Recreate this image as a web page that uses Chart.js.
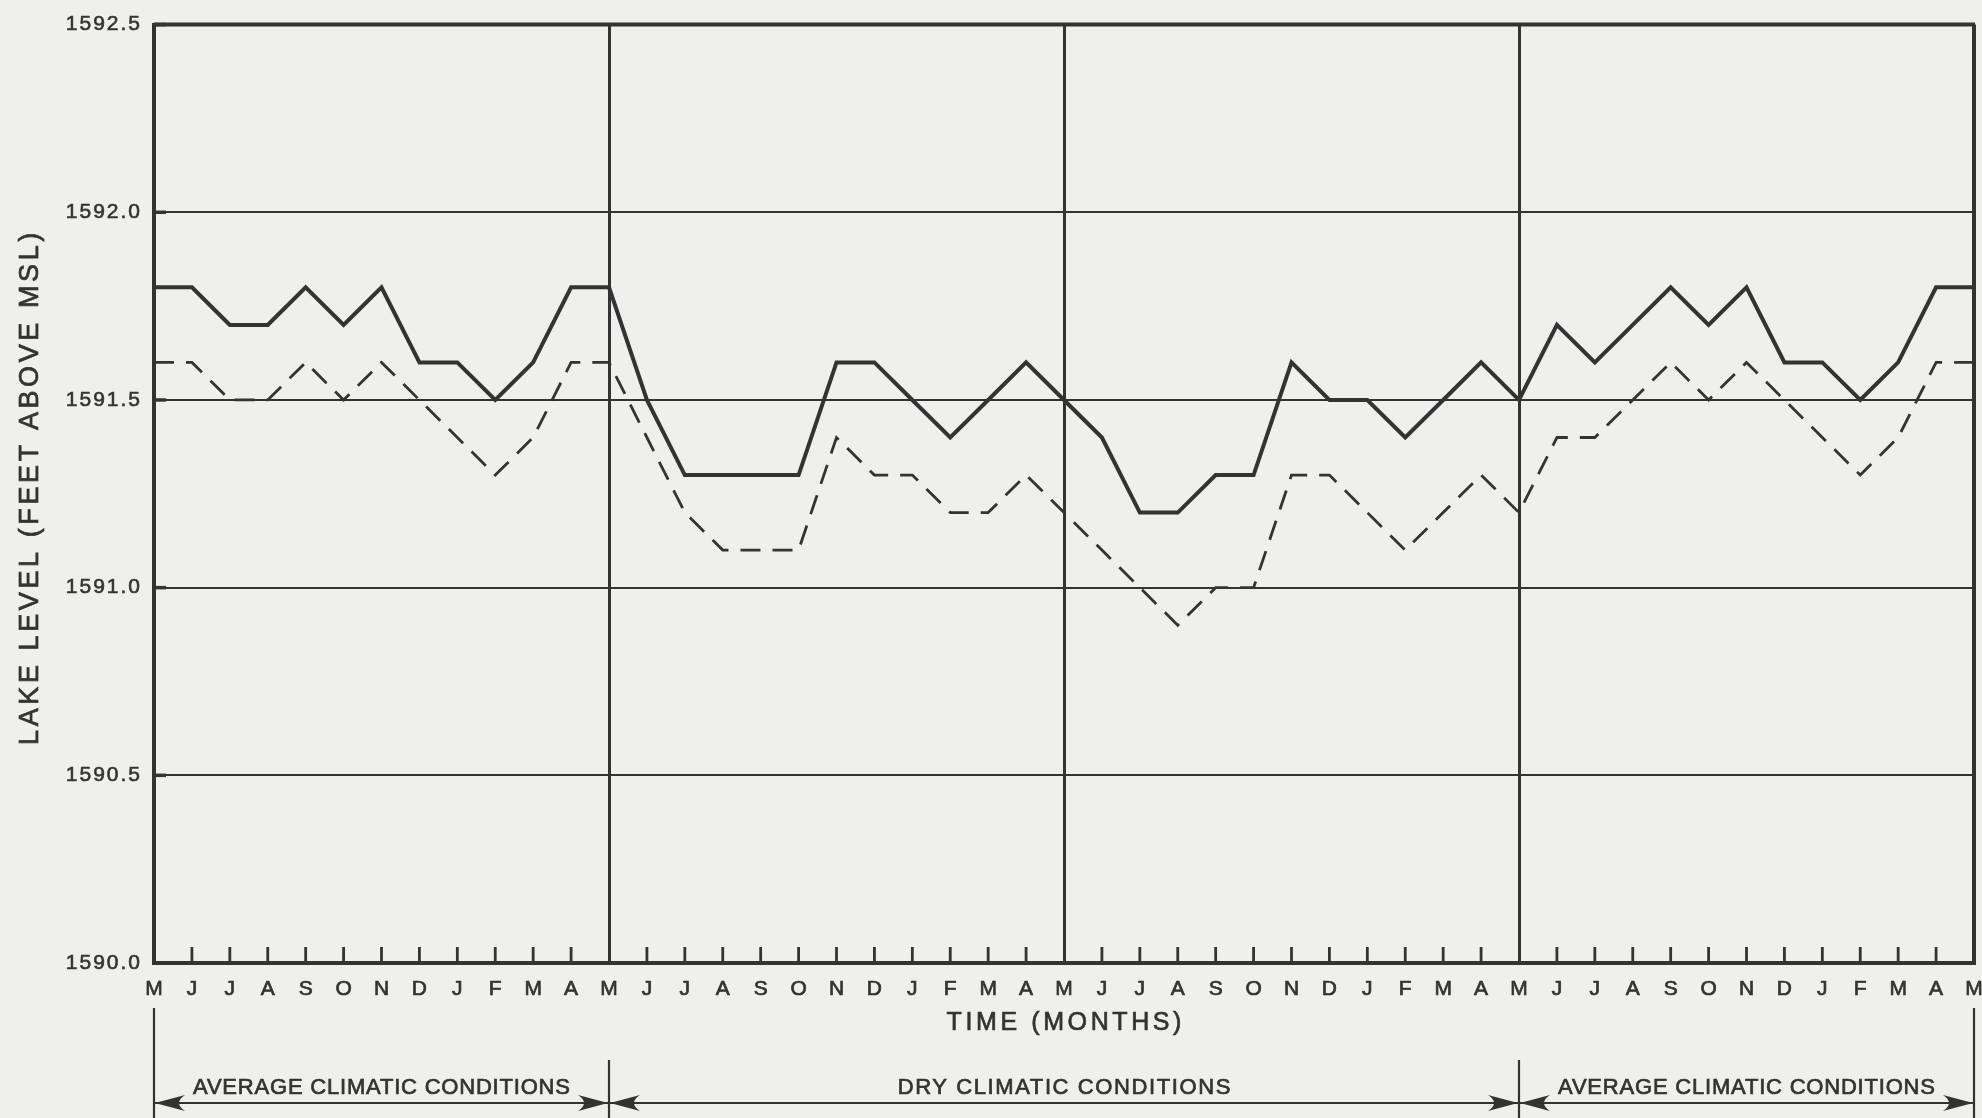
<!DOCTYPE html>
<html><head><meta charset="utf-8">
<script src="https://cdn.jsdelivr.net/npm/chart.js@4/dist/chart.umd.min.js"></script>
<style>html,body{margin:0;padding:0;background:#efefed;overflow:hidden}canvas{display:block}</style>
</head><body>
<canvas id="c" width="1982" height="1118"></canvas>
<script>
// ---- data ----
const months = ['M','J','J','A','S','O','N','D','J','F','M','A',
                'M','J','J','A','S','O','N','D','J','F','M','A',
                'M','J','J','A','S','O','N','D','J','F','M','A',
                'M','J','J','A','S','O','N','D','J','F','M','A','M'];
const solidLevels = [
  1591.8,1591.8,1591.7,1591.7,1591.8,1591.7,1591.8,1591.6,1591.6,1591.5,1591.6,1591.8,
  1591.8,1591.5,1591.3,1591.3,1591.3,1591.3,1591.6,1591.6,1591.5,1591.4,1591.5,1591.6,
  1591.5,1591.4,1591.2,1591.2,1591.3,1591.3,1591.6,1591.5,1591.5,1591.4,1591.5,1591.6,
  1591.5,1591.7,1591.6,1591.7,1591.8,1591.7,1591.8,1591.6,1591.6,1591.5,1591.6,1591.8,
  1591.8];
const dashedLevels = [
  1591.6,1591.6,1591.5,1591.5,1591.6,1591.5,1591.6,1591.5,1591.4,1591.3,1591.4,1591.6,
  1591.6,1591.4,1591.2,1591.1,1591.1,1591.1,1591.4,1591.3,1591.3,1591.2,1591.2,1591.3,
  1591.2,1591.1,1591.0,1590.9,1591.0,1591.0,1591.3,1591.3,1591.2,1591.1,1591.2,1591.3,
  1591.2,1591.4,1591.4,1591.5,1591.6,1591.5,1591.6,1591.5,1591.4,1591.3,1591.4,1591.6,
  1591.6];
const yTickValues = [1590.0, 1590.5, 1591.0, 1591.5, 1592.0, 1592.5];
const periodLabels = ['AVERAGE CLIMATIC CONDITIONS', 'DRY CLIMATIC CONDITIONS', 'AVERAGE CLIMATIC CONDITIONS'];
const periodBounds = [[0, 12], [12, 36], [36, 48]];
const yTitle = 'LAKE LEVEL (FEET ABOVE MSL)';
const xTitle = 'TIME (MONTHS)';

const INK = '#333333';
const FONT = '"Liberation Sans", Arial, sans-serif';
const TICK_SPACING = 2;

function drawText(ctx, txt, x, y, size, spacing, align) {
  ctx.save();
  ctx.font = size + 'px ' + FONT;
  ctx.fillStyle = INK;
  ctx.strokeStyle = INK;
  ctx.lineWidth = 0.7;
  ctx.letterSpacing = spacing + 'px';
  ctx.textBaseline = 'middle';
  const w = ctx.measureText(txt).width - spacing;
  let sx = x;
  if (align === 'center') sx = x - w / 2;
  ctx.textAlign = 'left';
  ctx.fillText(txt, sx, y);
  ctx.strokeText(txt, sx, y);
  ctx.restore();
}

function arrowHead(ctx, x, y, dir) {
  // dir = +1 points right, -1 points left
  const L = 30, H = 8;
  ctx.beginPath();
  ctx.moveTo(x, y);
  ctx.lineTo(x - dir * L, y - H);
  ctx.quadraticCurveTo(x - dir * L * 0.6, y, x - dir * L, y + H);
  ctx.closePath();
  ctx.fill();
}

const decor = {
  id: 'decor',
  beforeDraw(chart) {
    const ctx = chart.ctx;
    ctx.fillStyle = '#efefed';
    ctx.fillRect(0, 0, chart.width, chart.height);
    // wider lettering for the library-drawn tick labels
    ctx.letterSpacing = TICK_SPACING + 'px';
  },
  afterDraw(chart) {
    const ctx = chart.ctx;
    const xs = chart.scales.x, ys = chart.scales.y;
    const a = chart.chartArea;
    ctx.save();
    ctx.letterSpacing = '0px';
    ctx.strokeStyle = INK;
    ctx.fillStyle = INK;
    // top frame
    ctx.lineWidth = 4;
    ctx.beginPath();
    ctx.moveTo(a.left, ys.getPixelForValue(1592.5));
    ctx.lineTo(a.right + 1, ys.getPixelForValue(1592.5));
    ctx.stroke();
    // inner month ticks
    ctx.lineWidth = 2.8;
    for (let i = 0; i < months.length; i++) {
      if (i % 12 === 0) continue;
      const px = xs.getPixelForValue(i);
      ctx.beginPath();
      ctx.moveTo(px, a.bottom);
      ctx.lineTo(px, a.bottom - 16);
      ctx.stroke();
    }
    // y stubs
    ctx.lineWidth = 3.5;
    yTickValues.forEach(v => {
      const py = ys.getPixelForValue(v);
      ctx.beginPath();
      ctx.moveTo(a.left, py);
      ctx.lineTo(a.left + 12, py);
      ctx.stroke();
    });
    // axis titles
    drawText(ctx, xTitle, (a.left + a.right) / 2, 1023, 25, 3.6, 'center');
    ctx.save();
    ctx.translate(31, (a.top + a.bottom) / 2 - 5);
    ctx.rotate(-Math.PI / 2);
    drawText(ctx, yTitle, 0, 0, 27, 3.6, 'center');
    ctx.restore();
    // period annotations
    const arrowY = 1103;
    ctx.lineWidth = 2.2;
    const boundaryIdx = [0, 12, 36, 48];
    boundaryIdx.forEach(i => {
      const px = xs.getPixelForValue(i);
      const outer = (i === 0 || i === 48);
      ctx.beginPath();
      ctx.moveTo(px, outer ? 1008 : 1060);
      ctx.lineTo(px, chart.height);
      ctx.stroke();
    });
    periodBounds.forEach((b, k) => {
      const x1 = xs.getPixelForValue(b[0]);
      const x2 = xs.getPixelForValue(b[1]);
      ctx.beginPath();
      ctx.moveTo(x1, arrowY);
      ctx.lineTo(x2, arrowY);
      ctx.stroke();
      arrowHead(ctx, x1 + 1, arrowY, -1);
      arrowHead(ctx, x2 - 1, arrowY, 1);
      drawText(ctx, periodLabels[k], (x1 + x2) / 2, 1088, 22, k === 1 ? 1.6 : 0.8, 'center');
    });
    ctx.restore();
  }
};

new Chart(document.getElementById('c'), {
  type: 'line',
  data: {
    labels: months,
    datasets: [
      { label: 'Lake level (solid)', data: solidLevels, borderColor: INK, borderWidth: 4,
        pointRadius: 0, tension: 0, fill: false, borderJoinStyle: 'miter' },
      { label: 'Lake level (dashed)', data: dashedLevels, borderColor: INK, borderWidth: 2.8,
        borderDash: [20, 12], pointRadius: 0, tension: 0, fill: false }
    ]
  },
  options: {
    responsive: false,
    devicePixelRatio: 1,
    animation: false,
    events: [],
    layout: { padding: { left: 0, right: 8, top: 21, bottom: 0 } },
    plugins: { legend: { display: false }, tooltip: { enabled: false }, title: { display: false } },
    scales: {
      x: {
        type: 'category',
        offset: false,
        border: { display: true, color: INK, width: 4 },
        grid: {
          drawTicks: false,
          color: c => (c.index % 12 === 0 ? INK : 'rgba(0,0,0,0)'),
          lineWidth: c => (c.index === 48 ? 4 : 3)
        },
        ticks: {
          autoSkip: false, maxRotation: 0, minRotation: 0, padding: 14,
          labelOffset: TICK_SPACING / 2,
          textStrokeColor: INK, textStrokeWidth: 0.7,
          color: INK, font: { family: FONT, size: 21 }
        },
        afterFit(s) { s.height = 155; s.paddingLeft = 0; s.paddingRight = 0; }
      },
      y: {
        type: 'linear',
        min: 1590, max: 1592.5,
        border: { display: true, color: INK, width: 4 },
        afterBuildTicks(s) { s.ticks = yTickValues.map(v => ({ value: v })); },
        grid: { drawTicks: false, color: INK, lineWidth: 2 },
        ticks: {
          padding: 14 - TICK_SPACING, color: INK, font: { family: FONT, size: 21 },
          textStrokeColor: INK, textStrokeWidth: 0.6,
          callback: v => Number(v).toFixed(1)
        },
        afterFit(s) { s.width = 154; }
      }
    }
  },
  plugins: [decor]
});
</script>
</body></html>
